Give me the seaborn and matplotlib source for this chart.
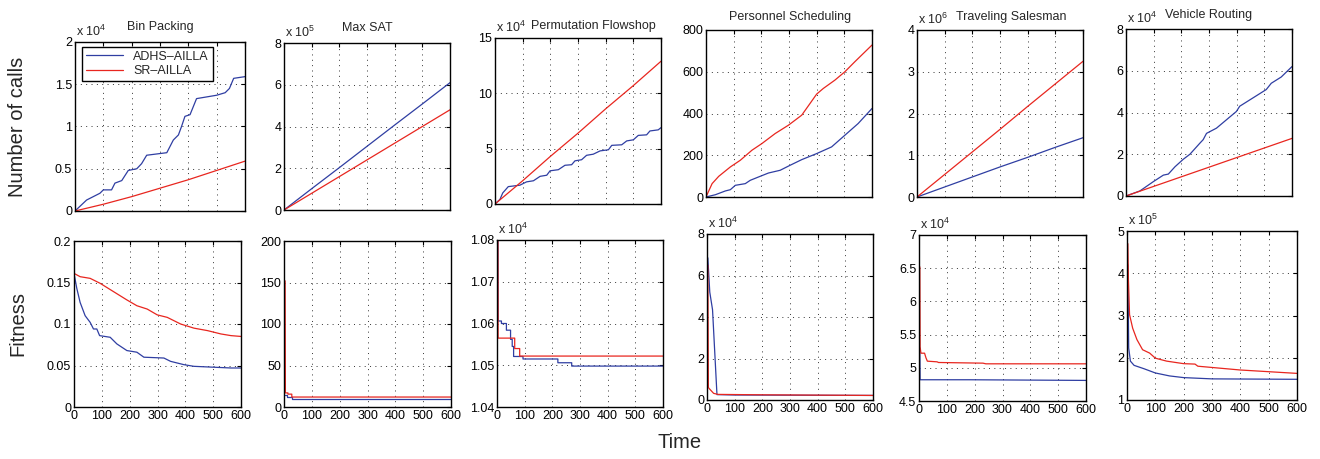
import numpy as np
import pandas as pd
import seaborn as sns
import matplotlib.pyplot as plt
from matplotlib.ticker import FuncFormatter, MultipleLocator

# === Data (time in s, values in the scale shown on each axis) ===
time_ticks = [0, 100, 200, 300, 400, 500, 600]

# Bin Packing - number of calls (x 10^4)
bp_calls_t_adhs = [0, 41, 88, 100, 129, 141, 165, 188, 218, 235, 253, 324, 347, 365, 376, 388, 406, 429, 500, 530, 545, 560, 600]
bp_calls_adhs = [0, 0.13, 0.21, 0.25, 0.25, 0.33, 0.36, 0.48, 0.50, 0.56, 0.66, 0.69, 0.84, 0.90, 1.00, 1.12, 1.14, 1.33, 1.37, 1.40, 1.45, 1.57, 1.59]
bp_calls_t_sr = [0, 100, 200, 300, 400, 500, 600]
bp_calls_sr = [0, 0.08, 0.17, 0.27, 0.37, 0.48, 0.59]

# Max SAT - number of calls (x 10^5)
ms_calls_t = [0, 100, 200, 300, 400, 500, 600]
ms_calls_adhs = [0, 1.02, 2.03, 3.05, 4.07, 5.08, 6.10]
ms_calls_sr = [0, 0.80, 1.60, 2.40, 3.20, 4.00, 4.80]

# Permutation Flowshop - number of calls (x 10^4)
pf_calls_t_adhs = [0, 18, 28, 48, 90, 114, 139, 163, 187, 199, 229, 253, 277, 289, 313, 331, 355, 380, 410, 422, 458, 476, 500, 518, 548, 560, 590, 600]
pf_calls_adhs = [0, 0.42, 1.0, 1.57, 1.7, 2.0, 2.1, 2.5, 2.6, 3.0, 3.1, 3.5, 3.55, 3.9, 4.0, 4.4, 4.5, 4.8, 4.9, 5.3, 5.35, 5.7, 5.8, 6.2, 6.25, 6.6, 6.7, 6.9]
pf_calls_t_sr = [0, 100, 200, 300, 400, 500, 600]
pf_calls_sr = [0, 2.1, 4.3, 6.4, 8.6, 10.7, 12.9]

# Personnel Scheduling - number of calls
ps_calls_t_adhs = [0, 34, 70, 88, 106, 142, 160, 190, 226, 268, 304, 346, 400, 454, 502, 550, 600]
ps_calls_adhs = [0, 11, 29, 35, 56, 64, 80, 96, 115, 128, 152, 179, 208, 240, 296, 352, 424]
ps_calls_t_sr = [0, 22, 46, 88, 124, 166, 202, 250, 298, 346, 376, 400, 424, 466, 502, 538, 600]
ps_calls_sr = [0, 64, 99, 144, 176, 224, 256, 304, 344, 392, 448, 493, 520, 560, 600, 648, 728]

# Traveling Salesman - number of calls (x 10^6)
ts_calls_t = [0, 100, 200, 300, 400, 500, 600]
ts_calls_adhs = [0, 0.24, 0.48, 0.72, 0.95, 1.19, 1.42]
ts_calls_sr = [0, 0.54, 1.08, 1.62, 2.17, 2.71, 3.25]

# Vehicle Routing - number of calls (x 10^4)
vr_calls_t_adhs = [0, 50, 99, 135, 153, 177, 207, 231, 267, 279, 291, 327, 363, 399, 411, 459, 507, 525, 561, 600]
vr_calls_adhs = [0, 0.24, 0.69, 1.0, 1.05, 1.4, 1.76, 2.0, 2.53, 2.7, 3.0, 3.25, 3.65, 4.05, 4.3, 4.7, 5.1, 5.4, 5.7, 6.2]
vr_calls_t_sr = [0, 100, 200, 300, 400, 500, 600]
vr_calls_sr = [0, 0.46, 0.92, 1.38, 1.84, 2.30, 2.76]

# Bin Packing - fitness
bp_fit_t_adhs = [0, 10, 22, 40, 58, 70, 82, 92, 130, 154, 190, 226, 251, 323, 347, 395, 431, 564, 600]
bp_fit_adhs = [0.161, 0.143, 0.126, 0.110, 0.102, 0.094, 0.094, 0.086, 0.084, 0.076, 0.068, 0.066, 0.060, 0.059, 0.055, 0.051, 0.049, 0.047, 0.047]
bp_fit_t_sr = [0, 22, 58, 94, 142, 190, 226, 263, 299, 335, 383, 431, 480, 528, 564, 600]
bp_fit_sr = [0.161, 0.157, 0.155, 0.149, 0.139, 0.129, 0.122, 0.118, 0.111, 0.108, 0.100, 0.095, 0.092, 0.088, 0.086, 0.085]

# Max SAT - fitness
ms_fit_t_adhs = [4, 10, 10, 28, 28, 600]
ms_fit_adhs = [14, 14, 12.5, 12.5, 10, 10]
ms_fit_t_sr = [4, 5, 14, 14, 28, 28, 600]
ms_fit_sr = [152, 17, 17, 15.5, 15.5, 12, 12]

# Permutation Flowshop - fitness (x 10^4)
pf_fit_t_adhs = [3, 4, 16, 16, 34, 34, 49, 49, 55, 55, 60, 60, 94, 94, 220, 220, 270, 270, 600]
pf_fit_adhs = [1.09, 1.0606, 1.0606, 1.0600, 1.0600, 1.0584, 1.0584, 1.0562, 1.0562, 1.0545, 1.0545, 1.0521, 1.0521, 1.0515, 1.0515, 1.0506, 1.0506, 1.0498, 1.0498]
pf_fit_t_sr = [3, 4, 64, 64, 82, 82, 600]
pf_fit_sr = [1.09, 1.0565, 1.0565, 1.054, 1.054, 1.0522, 1.0522]

# Personnel Scheduling - fitness (x 10^4)
ps_fit_t_adhs = [3, 10, 20, 36, 100, 600]
ps_fit_adhs = [6.85, 5.2, 4.35, 0.26, 0.24, 0.22]
ps_fit_t_sr = [3, 5, 8, 24, 40, 200, 600]
ps_fit_sr = [6.5, 0.6, 0.55, 0.32, 0.27, 0.25, 0.22]

# Traveling Salesman - fitness (x 10^4)
ts_fit_t_adhs = [3, 4, 180, 600]
ts_fit_adhs = [5.3, 4.82, 4.82, 4.81]
ts_fit_t_sr = [3, 4, 7, 20, 25, 30, 65, 70, 230, 240, 600]
ts_fit_sr = [6.52, 5.31, 5.22, 5.22, 5.15, 5.10, 5.09, 5.08, 5.07, 5.06, 5.06]

# Vehicle Routing - fitness (x 10^5)
vr_fit_t_adhs = [3, 6, 12, 25, 60, 100, 150, 200, 300, 600]
vr_fit_adhs = [4.2, 2.23, 1.92, 1.82, 1.74, 1.64, 1.57, 1.53, 1.50, 1.49]
vr_fit_t_sr = [3, 5, 9, 20, 35, 55, 80, 100, 140, 200, 240, 250, 300, 350, 400, 500, 600]
vr_fit_sr = [4.7, 3.85, 3.02, 2.70, 2.43, 2.19, 2.11, 1.99, 1.92, 1.86, 1.85, 1.80, 1.77, 1.74, 1.71, 1.67, 1.63]

# === Style ===
sns.set_style('white')
plt.rcParams['font.family'] = ['Liberation Sans', 'DejaVu Sans']
plt.rcParams['mathtext.fontset'] = 'custom'
plt.rcParams['mathtext.rm'] = 'Liberation Sans'
plt.rcParams['mathtext.it'] = 'Liberation Sans'

BLUE = '#2f3ea2'
RED = '#e8261f'
W, H = 1320, 459

fig = plt.figure(figsize=(W / 100, H / 100), dpi=100)


def make_axes(x0, y0, x1, y1):
    # pixel box (top-left origin) -> figure fraction
    return fig.add_axes([x0 / W, (H - y1) / H, (x1 - x0) / W, (y1 - y0) / H])


def panel(ax, t_a, v_a, t_s, v_s, ylim, ystep, show_x, offset=None):
    sns.lineplot(x=t_a, y=v_a, ax=ax, color=BLUE, lw=0.9, estimator=None, sort=False, label='ADHS\u2013AILLA')
    sns.lineplot(x=t_s, y=v_s, ax=ax, color=RED, lw=0.9, estimator=None, sort=False, label='SR\u2013AILLA')
    ax.get_legend().remove()
    ax.set_xlim(0, 600)
    ax.set_ylim(*ylim)
    ax.set_xticks(time_ticks)
    ax.yaxis.set_major_locator(MultipleLocator(ystep))
    ax.yaxis.set_major_formatter(FuncFormatter(lambda v, p: f'{round(v, 6):g}'))
    ax.tick_params(direction='in', length=3, width=0.8, labelsize=9, pad=2,
                   top=True, right=True, colors='black')
    if not show_x:
        ax.set_xticklabels([])
    ax.set_xlabel('')
    ax.set_ylabel('')
    ax.grid(True, color='#333333', ls=(0, (1, 4.5)), lw=0.7)
    for s in ax.spines.values():
        s.set_color('black')
        s.set_linewidth(1.0)
    if offset is not None:
        ax.annotate(r'x 10$^{%d}$' % offset, xy=(0, 1), xycoords='axes fraction',
                    xytext=(1, 2), textcoords='offset points', ha='left', va='bottom', fontsize=9)


# === Top row: number of calls ===
top_boxes = [(75, 42, 245, 211), (284, 43, 450, 210), (495, 38, 661, 204),
             (706, 30, 872, 197), (917, 30, 1083, 197), (1126, 29, 1292, 196)]
top_axes = [make_axes(*b) for b in top_boxes]

panel(top_axes[0], bp_calls_t_adhs, bp_calls_adhs, bp_calls_t_sr, bp_calls_sr, (0, 2), 0.5, False, 4)
panel(top_axes[1], ms_calls_t, ms_calls_adhs, ms_calls_t, ms_calls_sr, (0, 8), 2, False, 5)
panel(top_axes[2], pf_calls_t_adhs, pf_calls_adhs, pf_calls_t_sr, pf_calls_sr, (0, 15), 5, False, 4)
panel(top_axes[3], ps_calls_t_adhs, ps_calls_adhs, ps_calls_t_sr, ps_calls_sr, (0, 800), 200, False)
panel(top_axes[4], ts_calls_t, ts_calls_adhs, ts_calls_t, ts_calls_sr, (0, 4), 1, False, 6)
panel(top_axes[5], vr_calls_t_adhs, vr_calls_adhs, vr_calls_t_sr, vr_calls_sr, (0, 8), 2, False, 4)

# titles (pixel positions of their centres)
titles = [('Bin Packing', 160, 27), ('Max SAT', 367, 28), ('Permutation Flowshop', 593, 26),
          ('Personnel Scheduling', 790, 17), ('Traveling Salesman', 1011, 17), ('Vehicle Routing', 1209, 15)]
for txt, px, py in titles:
    fig.text(px / W, 1 - py / H, txt, ha='center', va='center', fontsize=9)

# legend in first panel
top_axes[0].legend(handles=top_axes[0].get_lines()[:2], loc='upper left', bbox_to_anchor=(0.041, 0.97),
                   borderaxespad=0, fancybox=False, edgecolor='black', framealpha=1, fontsize=9,
                   handlelength=3, borderpad=0.3, labelspacing=0.2, handletextpad=0.8)
top_axes[0].get_legend().get_frame().set_linewidth(1.0)

# === Bottom row: fitness ===
bot_boxes = [(74, 241, 241, 407), (284, 241, 451, 407), (497, 240, 663, 407),
             (707, 234, 873, 400), (919, 235, 1086, 401), (1127, 231, 1297, 400)]
bot_axes = [make_axes(*b) for b in bot_boxes]

panel(bot_axes[0], bp_fit_t_adhs, bp_fit_adhs, bp_fit_t_sr, bp_fit_sr, (0, 0.2), 0.05, True)
panel(bot_axes[1], ms_fit_t_adhs, ms_fit_adhs, ms_fit_t_sr, ms_fit_sr, (0, 200), 50, True)
panel(bot_axes[2], pf_fit_t_adhs, pf_fit_adhs, pf_fit_t_sr, pf_fit_sr, (1.04, 1.08), 0.01, True, 4)
panel(bot_axes[3], ps_fit_t_adhs, ps_fit_adhs, ps_fit_t_sr, ps_fit_sr, (0, 8), 2, True, 4)
panel(bot_axes[4], ts_fit_t_adhs, ts_fit_adhs, ts_fit_t_sr, ts_fit_sr, (4.5, 7), 0.5, True, 4)
panel(bot_axes[5], vr_fit_t_adhs, vr_fit_adhs, vr_fit_t_sr, vr_fit_sr, (1, 5), 1, True, 5)

# === Shared labels ===
fig.text(18 / W, 1 - 127 / H, 'Number of calls', rotation=90, ha='center', va='center', fontsize=14.5)
fig.text(18 / W, 1 - 323 / H, 'Fitness', rotation=90, ha='center', va='center', fontsize=14.5)
fig.text(680 / W, 1 - 443 / H, 'Time', ha='center', va='center', fontsize=14.5)

fig.savefig('out.png', dpi=100)
